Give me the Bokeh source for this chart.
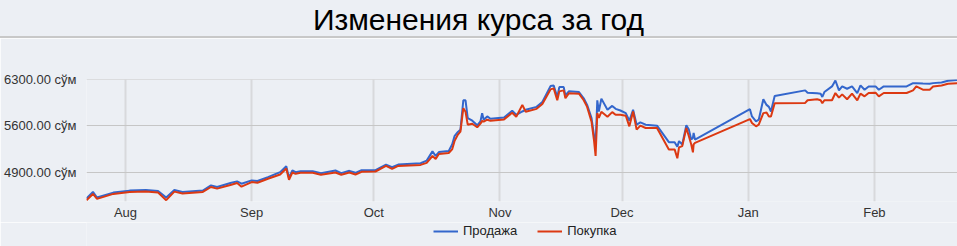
import pandas as pd
from datetime import datetime
from bokeh.plotting import figure
from bokeh.models import (Range1d, FixedTicker, DatetimeTickFormatter, Legend,
                          LegendItem, Div, ColumnDataSource)
from bokeh.layouts import column
from bokeh.embed import file_html
from bokeh.resources import INLINE

# ---------------- data ----------------
dates = [
    "2016-07-22 10:00", "2016-07-24", "2016-07-25", "2016-07-29", "2016-08-02",
    "2016-08-06", "2016-08-09", "2016-08-11", "2016-08-13", "2016-08-15",
    "2016-08-20", "2016-08-22", "2016-08-23 12:00", "2016-08-27", "2016-08-28 10:00",
    "2016-08-29 12:00", "2016-09-01", "2016-09-02 10:00", "2016-09-05", "2016-09-08",
    "2016-09-09 12:00", "2016-09-10 04:00", "2016-09-11", "2016-09-11 19:00", "2016-09-13",
    "2016-09-16", "2016-09-18", "2016-09-21 14:00", "2016-09-23", "2016-09-25",
    "2016-09-26 12:00", "2016-09-28", "2016-10-01 10:00", "2016-10-04", "2016-10-05 12:00",
    "2016-10-07", "2016-10-12 12:00", "2016-10-14", "2016-10-15 10:00", "2016-10-16 05:00",
    "2016-10-17", "2016-10-19 10:00", "2016-10-20 06:00", "2016-10-20 20:00", "2016-10-21 16:00",
    "2016-10-22 07:00", "2016-10-23", "2016-10-23 13:00", "2016-10-24 02:00", "2016-10-25 05:00",
    "2016-10-26 10:00", "2016-10-27 05:00", "2016-10-27 15:00", "2016-10-28", "2016-10-28 21:00",
    "2016-10-29 16:00", "2016-11-02", "2016-11-04", "2016-11-05", "2016-11-06 12:00",
    "2016-11-07 08:00", "2016-11-10", "2016-11-11 10:00", "2016-11-13 10:00", "2016-11-14 05:00",
    "2016-11-15 02:00", "2016-11-15 14:00", "2016-11-16 16:00", "2016-11-17 02:00", "2016-11-17 22:00",
    "2016-11-20 10:00", "2016-11-21 14:00", "2016-11-22 10:00", "2016-11-23 12:00", "2016-11-24 02:00",
    "2016-11-24 12:00", "2016-11-24 22:00", "2016-11-25 07:00", "2016-11-25 22:00", "2016-11-27 10:00",
    "2016-11-28 14:00", "2016-11-29 10:00", "2016-11-30 14:00", "2016-12-01 22:00", "2016-12-02 19:00",
    "2016-12-03 17:00", "2016-12-04 14:00", "2016-12-05 12:00", "2016-12-06 19:00", "2016-12-09 14:00",
    "2016-12-12 12:00", "2016-12-13 22:00", "2016-12-14 14:00", "2016-12-15", "2016-12-15 19:00",
    "2016-12-16 19:00", "2016-12-17 10:00", "2016-12-18", "2016-12-18 10:00", "2016-12-18 14:00",
    "2016-12-18 22:00", "2017-01-01 10:00", "2017-01-01 22:00", "2017-01-02 22:00", "2017-01-03 14:00",
    "2017-01-04 17:00", "2017-01-05 12:00", "2017-01-06 02:00", "2017-01-06 14:00", "2017-01-07 12:00",
    "2017-01-15", "2017-01-15 14:00", "2017-01-17 22:00", "2017-01-18 19:00", "2017-01-19 05:00",
    "2017-01-19 17:00", "2017-01-21 14:00", "2017-01-22 10:00", "2017-01-23 07:00", "2017-01-24 02:00",
    "2017-01-25 07:00", "2017-01-26 12:00", "2017-01-27 19:00", "2017-01-28 14:00", "2017-01-29 14:00",
    "2017-01-30 14:00", "2017-02-01 07:00", "2017-02-02 02:00", "2017-02-03 07:00", "2017-02-08 22:00",
    "2017-02-10 12:00", "2017-02-11 07:00", "2017-02-12 22:00", "2017-02-14 14:00", "2017-02-15 10:00",
    "2017-02-17 12:00", "2017-02-19 02:00", "2017-02-21 10:00",
]

sell = [  # Продажа
    4500, 4600, 4515, 4590, 4620, 4630, 4615, 4515, 4630, 4600,
    4620, 4700, 4675, 4740, 4760, 4725, 4775, 4765, 4825, 4900,
    4990, 4815, 4925, 4900, 4915, 4915, 4885, 4925, 4885, 4920,
    4890, 4930, 4930, 5015, 4975, 5015, 5035, 5075, 5215, 5145,
    5205, 5220, 5320, 5445, 5510, 5545, 5990, 5990, 5720, 5680,
    5610, 5670, 5795, 5695, 5745, 5710, 5730, 5830, 5770, 5820,
    5845, 5890, 5965, 6205, 6215, 6040, 6190, 6190, 6065, 6125,
    6115, 6020, 5920, 5720, 5470, 5320, 5990, 5820, 6015, 5845,
    5905, 5860, 5835, 5795, 5680, 5845, 5620, 5655, 5620, 5605,
    5355, 5355, 5285, 5370, 5320, 5610, 5545, 5395, 5425, 5495,
    5395, 5855, 5745, 5670, 5695, 6005, 5920, 5890, 5820, 6055,
    6140, 6105, 6095, 6090, 6040, 6115, 6200, 6290, 6140, 6200,
    6165, 6200, 6100, 6215, 6150, 6200, 6200, 6150, 6200, 6200,
    6250, 6250, 6245, 6240, 6250, 6260, 6285, 6300,
]

buy = [  # Покупка
    4475, 4570, 4495, 4570, 4600, 4605, 4590, 4475, 4605, 4575,
    4600, 4675, 4650, 4710, 4735, 4680, 4750, 4740, 4800, 4865,
    4955, 4785, 4895, 4875, 4890, 4890, 4860, 4895, 4860, 4895,
    4865, 4905, 4910, 4995, 4950, 4995, 5010, 5040, 5145, 5100,
    5175, 5190, 5245, 5370, 5470, 5515, 5870, 5815, 5620, 5635,
    5580, 5635, 5680, 5665, 5695, 5680, 5700, 5800, 5740, 5920,
    5815, 5860, 5935, 6155, 6170, 5990, 6125, 6140, 6020, 6095,
    6090, 5990, 5890, 5665, 5395, 5145, 5795, 5725, 5815, 5740,
    5810, 5770, 5770, 5755, 5595, 5820, 5545, 5605, 5570, 5570,
    5245, 5245, 5110, 5275, 5295, 5570, 5445, 5320, 5200, 5320,
    5345, 5705, 5645, 5595, 5620, 5795, 5805, 5745, 5745, 5945,
    5950, 5990, 6005, 5990, 5945, 5990, 5990, 6100, 6030, 6080,
    6005, 6090, 5990, 6090, 6050, 6100, 6105, 6050, 6100, 6100,
    6140, 6200, 6150, 6150, 6200, 6215, 6240, 6250,
]

month_ticks = ["2016-08-01", "2016-09-01", "2016-10-01", "2016-11-01",
               "2016-12-01", "2017-01-01", "2017-02-01"]
y_ticks = [4900, 5600, 6300]
y_tick_labels = ["4900.00 сўм", "5600.00 сўм", "6300.00 сўм"]
series_names = ["Продажа", "Покупка"]
title_text = "Изменения курса за год"

# ---------------- styling ----------------
BG = "#eceff4"
FONT = "Liberation Sans"
BLUE = "#3366cc"
RED = "#dc3912"
W = 957

# ---------------- header (title + rule) ----------------
title_div = Div(text=title_text, width=W, height=36, margin=0,
                styles={"font-family": FONT, "font-size": "30px", "color": "#000000",
                        "text-align": "center", "line-height": "40px",
                        "background-color": BG, "overflow": "visible",
                        "white-space": "nowrap"})
rule_div = Div(text="", width=W, height=2, margin=0,
               styles={"background-color": "#c8c8c8"})

# ---------------- main chart ----------------
src = ColumnDataSource(dict(date=pd.to_datetime(dates, format="ISO8601"), sell=sell, buy=buy))

x_start = datetime(2016, 7, 22, 10)
x_end = datetime(2017, 2, 21, 10)

p = figure(width=W, height=184, x_axis_type="datetime", output_backend="svg",
           toolbar_location=None, title=None, x_range=Range1d(x_start, x_end),
           y_range=Range1d(4455, 6305),
           min_border_left=86, min_border_right=0, min_border_top=41, min_border_bottom=19)
p.background_fill_color = BG
p.border_fill_color = BG
p.outline_line_color = None

xt = FixedTicker(ticks=[pd.Timestamp(m).timestamp() * 1000 for m in month_ticks])
p.xaxis.ticker = xt
p.xaxis.formatter = DatetimeTickFormatter(years="%b", months="%b", days="%b", hours="%b",
                                          hourmin="%b", minutes="%b", minsec="%b",
                                          seconds="%b", milliseconds="%b", microseconds="%b")
p.xgrid.ticker = xt
p.xgrid.grid_line_color = "#d8d9dc"
p.xgrid.grid_line_width = 2

yt = FixedTicker(ticks=y_ticks)
p.yaxis.ticker = yt
p.yaxis.major_label_overrides = {v: s for v, s in zip(y_ticks, y_tick_labels)}
p.ygrid.ticker = yt
p.ygrid.grid_line_color = "#c6c6c6"
p.ygrid.grid_line_width = 1

for ax in (p.xaxis, p.yaxis):
    ax.axis_line_color = None
    ax.major_tick_line_color = None
    ax.minor_tick_line_color = None
    ax.major_tick_out = 0
    ax.major_tick_in = 0
    ax.major_label_text_font = FONT
    ax.major_label_text_font_size = "13px"
    ax.major_label_text_color = "#333333"
p.xaxis.major_label_standoff = 3
p.yaxis.major_label_standoff = 10

p.line(x="date", y="sell", source=src, line_color=BLUE, line_width=2)
p.line(x="date", y="buy", source=src, line_color=RED, line_width=2)

# ---------------- legend strip (same series, legend only) ----------------
foot = figure(width=W, height=24, x_axis_type=None, y_axis_type=None,
              output_backend="svg", toolbar_location=None, title=None,
              x_range=Range1d(x_start, x_end), y_range=Range1d(0, 1),
              min_border_left=86, min_border_right=0, min_border_top=0, min_border_bottom=0)
foot.background_fill_color = BG
foot.border_fill_color = BG
foot.outline_line_color = None
foot.grid.visible = False
f_sell = foot.line(x="date", y="sell", source=src, line_color=BLUE, line_width=2)
f_buy = foot.line(x="date", y="buy", source=src, line_color=RED, line_width=2)

legend = Legend(items=[LegendItem(label=series_names[0], renderers=[f_sell]),
                       LegendItem(label=series_names[1], renderers=[f_buy])],
                location=(347, 8), orientation="horizontal",
                border_line_color=None, background_fill_alpha=0,
                label_text_font=FONT, label_text_font_size="13px",
                label_text_color="#222222",
                glyph_width=25, glyph_height=14, label_height=14,
                label_standoff=5, spacing=20, padding=0, margin=0)
foot.add_layout(legend, "center")

layout = column(title_div, rule_div, p, foot, spacing=0)

open("out.html", "w").write(file_html(layout, INLINE))
